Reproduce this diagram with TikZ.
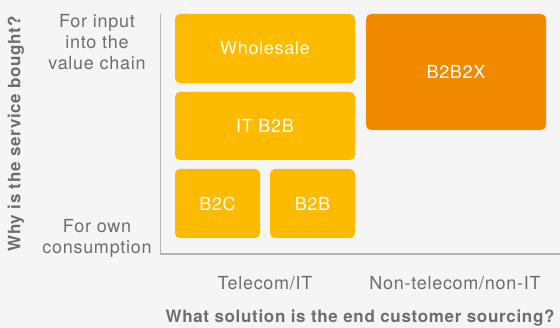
\documentclass[tikz,border=0pt]{standalone}
\usepackage{fontspec}
\setmainfont{TeX Gyre Heros}[LetterSpace=4]
\definecolor{bg}{HTML}{F5F5F5}
\definecolor{yel}{HTML}{FDBB00}
\definecolor{org}{HTML}{F28A00}
\definecolor{txt}{HTML}{6E6E6E}
\definecolor{axis}{HTML}{B4B4B4}
\tikzset{
  cell/.style={rounded corners=5pt, inner sep=0pt, text=white, font=\fontsize{18}{21}\selectfont},
  lab/.style={text=txt, align=center, font=\fontsize{18}{21}\selectfont},
  title/.style={text=txt, font=\bfseries\fontsize{17}{21}\selectfont},
}
\begin{document}
\begin{tikzpicture}[x=1pt,y=-1pt]
\fill[bg] (0,0) rectangle (560,328);
\useasboundingbox (0,0) rectangle (560,328);
\coordinate (top) at (160.5,14);
\coordinate (orig) at (160.5,254);
\coordinate (right) at (560,254);
\draw[axis, line width=1.5pt] (top) -- (orig) -- (right);
\node[cell, fill=yel, minimum width=180pt, minimum height=69pt] (wh) at (265,48.5) {Wholesale};
\node[cell, fill=yel, minimum width=180pt, minimum height=68pt] (it) at (265,126) {IT B2B};
\node[cell, fill=yel, minimum width=85pt, minimum height=69pt] (b2c) at (217.5,203.5) {B2C};
\node[cell, fill=yel, minimum width=85pt, minimum height=69pt] (b2b) at (312.5,203.5) {B2B};
\node[cell, fill=org, minimum width=180pt, minimum height=116pt] (x) at (456,72) {B2B2X};
\node[lab] (inp) at (97,42) {For input\\into the\\value chain};
\node[lab] (own) at (97,238) {For own\\consumption};
\node[lab] (tel) at (265,283) {Telecom/IT};
\node[lab] (non) at (455,283) {Non-telecom/non-IT};
\node[title, rotate=90] (why) at (16,134) {Why is the service bought?};
\node[title] (what) at (360,318) {What solution is the end customer sourcing?};
\end{tikzpicture}
\end{document}
